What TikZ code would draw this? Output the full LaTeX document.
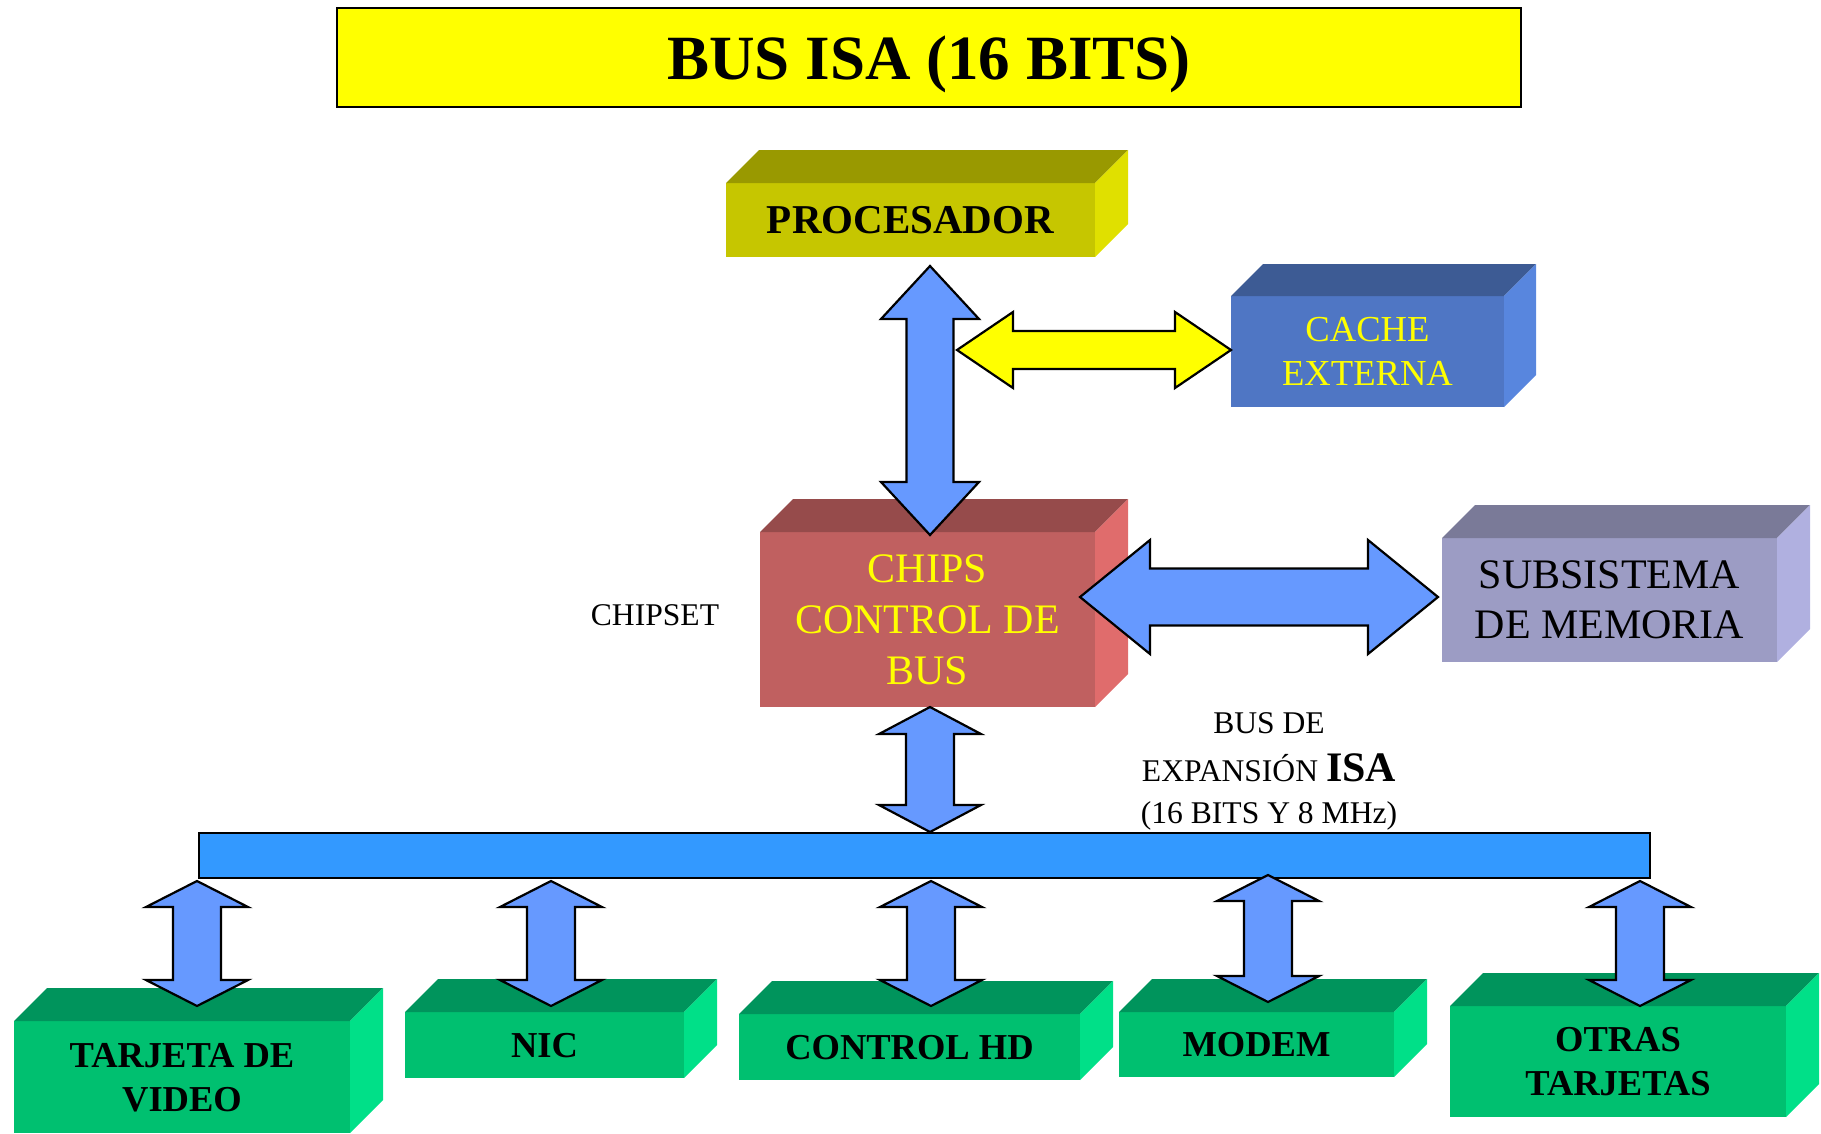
\documentclass[tikz,border=0pt]{standalone}
\usepackage{fontspec}
\setmainfont{Liberation Serif}
\usetikzlibrary{calc}

\definecolor{procF}{RGB}{198,198,0}
\definecolor{procT}{RGB}{153,153,0}
\definecolor{procS}{RGB}{224,224,0}
\definecolor{cacheF}{RGB}{79,118,196}
\definecolor{cacheT}{RGB}{61,91,148}
\definecolor{cacheS}{RGB}{88,134,222}
\definecolor{chipsF}{RGB}{192,96,96}
\definecolor{chipsT}{RGB}{150,75,75}
\definecolor{chipsS}{RGB}{224,108,108}
\definecolor{memF}{RGB}{156,156,196}
\definecolor{memT}{RGB}{122,122,152}
\definecolor{memS}{RGB}{176,176,224}
\definecolor{verdeF}{RGB}{0,192,112}
\definecolor{verdeT}{RGB}{0,148,92}
\definecolor{verdeS}{RGB}{0,224,136}
\definecolor{azulFlecha}{RGB}{102,153,255}
\definecolor{azulBus}{RGB}{51,153,255}
\definecolor{amarillo}{RGB}{255,255,0}

\tikzset{
  frente/.style={fill=#1, inner sep=0pt, outer sep=0pt, align=center},
  bajar/.style={text depth=-#1},
  flecha/.style={draw=black, line width=2.2pt, line join=miter, fill=azulFlecha},
  verde/.style={frente=verdeF, bajar=5pt, font=\bfseries\fontsize{36.5}{44}\selectfont}
}

\newcommand{\caras}[4]{%
  \fill[#3] (#1.north west) -- ++(#2,-#2) -- ($(#1.north east)+(#2,-#2)$) -- (#1.north east) -- cycle;
  \fill[#4] (#1.north east) -- ++(#2,-#2) -- ($(#1.south east)+(#2,-#2)$) -- (#1.south east) -- cycle;}

\newcommand{\flechav}[6]{%
  \draw[#1] (#2) -- ($(#2)+(#5,#6)$) -- ($(#2)+(#4,#6)$) -- ($(#3)+(#4,-#6)$) -- ($(#3)+(#5,-#6)$) -- (#3)
    -- ($(#3)+(-#5,-#6)$) -- ($(#3)+(-#4,-#6)$) -- ($(#2)+(-#4,#6)$) -- ($(#2)+(-#5,#6)$) -- cycle;}

\newcommand{\flechah}[6]{%
  \draw[#1] (#2) -- ($(#2)+(#6,-#5)$) -- ($(#2)+(#6,-#4)$) -- ($(#3)+(-#6,-#4)$) -- ($(#3)+(-#6,-#5)$) -- (#3)
    -- ($(#3)+(-#6,#5)$) -- ($(#3)+(-#6,#4)$) -- ($(#2)+(#6,#4)$) -- ($(#2)+(#6,#5)$) -- cycle;}

\begin{document}
\begin{tikzpicture}[x=1pt, y=-1pt]
\useasboundingbox (0,0) rectangle (1821,1133);

\node (titulo) at (929,57.5) [draw, line width=2.5pt, fill=amarillo, minimum width=1184pt, minimum height=99pt,
  text depth=-1pt, font=\bfseries\fontsize{63}{70}\selectfont] {BUS ISA (16 BITS)};

\node (proc) at (910.5,220) [frente=procF, bajar=4pt, minimum width=369pt, minimum height=74pt,
  font=\bfseries\fontsize{41}{47}\selectfont] {PROCESADOR};
\caras{proc}{33}{procT}{procS}

\node (cache) at (1367.5,351.5) [frente=cacheF, bajar=3pt, minimum width=273pt, minimum height=111pt, text=amarillo,
  font=\fontsize{36.6}{44}\selectfont] {CACHE\\EXTERNA};
\caras{cache}{32}{cacheT}{cacheS}

\node (chips) at (927.5,619.5) [frente=chipsF, bajar=3pt, minimum width=335pt, minimum height=175pt, text=amarillo,
  font=\fontsize{42}{51}\selectfont] {CHIPS\\CONTROL DE\\BUS};
\caras{chips}{33}{chipsT}{chipsS}

\node (mem) at (1609.5,600) [frente=memF, bajar=3pt, minimum width=335pt, minimum height=124pt,
  font=\fontsize{42}{50}\selectfont] {SUBSISTEMA\\DE MEMORIA};
\caras{mem}{33}{memT}{memS}

\node (video) at (182,1077) [verde, minimum width=336pt, minimum height=112pt] {TARJETA DE\\VIDEO};
\node (nic) at (544.5,1045) [verde, minimum width=279pt, minimum height=66pt] {NIC};
\node (hd) at (909.5,1047) [verde, minimum width=341pt, minimum height=66pt] {CONTROL HD};
\node (modem) at (1256.5,1044.5) [verde, minimum width=275pt, minimum height=65pt] {MODEM};
\node (otras) at (1618,1061.5) [verde, minimum width=336pt, minimum height=111pt] {OTRAS\\TARJETAS};
\foreach \n in {video,nic,hd,modem,otras} {\caras{\n}{33}{verdeT}{verdeS}}

\node (chipset) at (655,615) [font=\fontsize{31.6}{36}\selectfont] {CHIPSET};
\node (isa) at (1269,771) [align=center, font=\fontsize{31.6}{45}\selectfont]
  {BUS DE\\[3pt]EXPANSIÓN {\bfseries\fontsize{42}{45}\selectfont ISA}\\[-3pt](16 BITS Y 8 MHz)};

\node (bus) at (924.5,855.5) [draw, line width=2pt, fill=azulBus, minimum width=1451pt, minimum height=45pt] {};

\coordinate (a1) at (930,266);
\coordinate (a2) at (930,535);
\coordinate (c1) at (957,350);
\coordinate (c2) at (1231,350);
\coordinate (m1) at (1080,597);
\coordinate (m2) at (1438,597);
\coordinate (e1) at (930,707);
\coordinate (e2) at (930,832);

\flechav{flecha}{a1}{a2}{23.5}{49}{53}
\flechah{flecha, fill=amarillo}{c1}{c2}{19}{38}{56}
\flechah{flecha}{m1}{m2}{28.5}{57}{70}
\flechav{flecha}{e1}{e2}{24}{51}{27}

\foreach \x/\n in {197/video, 551/nic, 931/hd, 1640/otras} {
  \coordinate (t\n) at (\x,881);
  \coordinate (b\n) at (\x,1006);
  \flechav{flecha}{t\n}{b\n}{24}{51}{26}
}
\coordinate (tmodem) at (1268,875);
\coordinate (bmodem) at (1268,1002);
\flechav{flecha}{tmodem}{bmodem}{24}{51}{26}

\end{tikzpicture}
\end{document}
